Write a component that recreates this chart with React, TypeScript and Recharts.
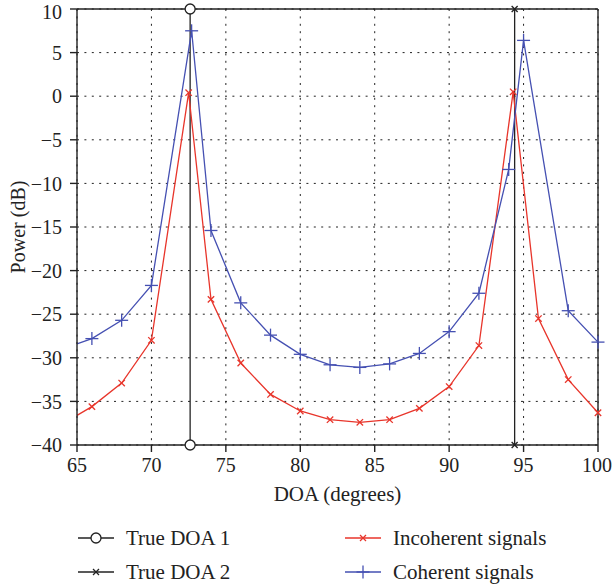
import React from 'react'
import { LineChart, Line, XAxis, YAxis, CartesianGrid, Legend, ReferenceLine } from 'recharts'

// DOA sweep (degrees) and spatial spectrum (dB)
const incoherentDoa = [65, 66, 68, 70, 72.5, 74, 76, 78, 80, 82, 84, 86, 88, 90, 92, 94.3, 96, 98, 100]
const incoherentPower = [-36.6, -35.6, -32.9, -28.0, 0.4, -23.3, -30.6, -34.2, -36.1, -37.1, -37.4, -37.1, -35.8, -33.3, -28.6, 0.5, -25.5, -32.5, -36.3]

const coherentDoa = [65, 66, 68, 70, 72.7, 74, 76, 78, 80, 82, 84, 86, 88, 90, 92, 94, 95, 98, 100]
const coherentPower = [-28.4, -27.8, -25.7, -21.7, 7.5, -15.4, -23.7, -27.4, -29.6, -30.8, -31.1, -30.7, -29.5, -27.0, -22.6, -8.4, 6.4, -24.6, -28.2]

const trueDoa1 = 72.6
const trueDoa2 = 94.4
const powerRange = [-40, 10]

const xTicks = [65, 70, 75, 80, 85, 90, 95, 100]
const yTicks = [-40, -35, -30, -25, -20, -15, -10, -5, 0, 5, 10]

const RED = '#e8352b'
const BLUE = '#4550b2'
const INK = '#222'
const FONT = '"Liberation Serif", "Times New Roman", serif'

const toRows = (xs: number[], ys: number[]) => xs.map((x, i) => ({ x, y: ys[i] }))
const incoherentRows = toRows(incoherentDoa, incoherentPower)
const coherentRows = toRows(coherentDoa, coherentPower)
const doa1Rows = powerRange.map((y) => ({ x: trueDoa1, y }))
const doa2Rows = powerRange.map((y) => ({ x: trueDoa2, y }))

const fmt = (v: number) => String(v).replace('-', '\u2212')

// marker shapes
const Cross = ({ cx, cy, s, color }: { cx: number; cy: number; s: number; color: string }) => (
  <g>
    <line x1={cx - s} y1={cy - s} x2={cx + s} y2={cy + s} stroke={color} strokeWidth={1.3} />
    <line x1={cx - s} y1={cy + s} x2={cx + s} y2={cy - s} stroke={color} strokeWidth={1.3} />
  </g>
)
const Plus = ({ cx, cy, s, color }: { cx: number; cy: number; s: number; color: string }) => (
  <g>
    <line x1={cx - s} y1={cy} x2={cx + s} y2={cy} stroke={color} strokeWidth={1.3} />
    <line x1={cx} y1={cy - s} x2={cx} y2={cy + s} stroke={color} strokeWidth={1.3} />
  </g>
)

// first sample sits on the axis edge and has no marker
const crossDot = (props: any) => {
  const { cx, cy, index } = props
  if (index === 0) return <g key={`ix-${index}`} />
  return (
    <g key={`ix-${index}`}>
      <Cross cx={cx} cy={cy} s={3.2} color={RED} />
    </g>
  )
}
const plusDot = (props: any) => {
  const { cx, cy, index } = props
  if (index === 0) return <g key={`cp-${index}`} />
  return (
    <g key={`cp-${index}`}>
      <Plus cx={cx} cy={cy} s={6.5} color={BLUE} />
    </g>
  )
}
const circleDot = (props: any) => (
  <circle key={`d1-${props.index}`} cx={props.cx} cy={props.cy} r={5} fill="#fff" stroke={INK} strokeWidth={1.3} />
)
const smallCrossDot = (props: any) => (
  <g key={`d2-${props.index}`}>
    <Cross cx={props.cx} cy={props.cy} s={3} color={INK} />
  </g>
)

const legendItems = [
  { name: 'True DOA 1', color: INK, mark: 'o', left: 78, top: 25 },
  { name: 'True DOA 2', color: INK, mark: 'x', left: 78, top: 59 },
  { name: 'Incoherent signals', color: RED, mark: 'x', left: 345, top: 25 },
  { name: 'Coherent signals', color: BLUE, mark: '+', left: 345, top: 59 },
]

const renderLegend = () => (
  <div style={{ position: 'relative', width: 612, height: 75, fontFamily: FONT, fontSize: 21, color: INK }}>
    {legendItems.map((it) => (
      <div key={it.name} style={{ position: 'absolute', left: it.left, top: it.top - 12, height: 24, display: 'flex', alignItems: 'center', whiteSpace: 'nowrap' }}>
        <svg width={36} height={24} style={{ marginRight: 12 }}>
          <line x1={0} y1={12} x2={36} y2={12} stroke={it.color} strokeWidth={1.3} />
          {it.mark === 'o' && <circle cx={18} cy={12} r={5} fill="#fff" stroke={it.color} strokeWidth={1.3} />}
          {it.mark === 'x' && <Cross cx={18} cy={12} s={3} color={it.color} />}
          {it.mark === '+' && <Plus cx={18} cy={12} s={6.5} color={it.color} />}
        </svg>
        <span>{it.name}</span>
      </div>
    ))}
  </div>
)

export default function App() {
  return (
    <div style={{ position: 'absolute', left: 0, top: 0, width: 612, height: 588, background: '#fff' }}>
      <LineChart width={612} height={588} margin={{ top: 9, right: 14, left: 0, bottom: 0 }}>
        <CartesianGrid stroke={INK} strokeDasharray="2 5.4" strokeWidth={1} />
        <XAxis
          type="number"
          dataKey="x"
          domain={[65, 100]}
          ticks={xTicks}
          height={68}
          tickSize={7}
          tickMargin={6}
          stroke={INK}
          strokeWidth={1.4}
          tick={{ fontSize: 20, fontFamily: FONT, fill: INK }}
          tickFormatter={fmt}
          label={{ value: 'DOA (degrees)', position: 'insideBottom', offset: 12, style: { fontSize: 21, fontFamily: FONT, fill: INK } }}
        />
        <YAxis
          type="number"
          domain={powerRange}
          ticks={yTicks}
          width={77}
          tickSize={7}
          tickMargin={8}
          stroke={INK}
          strokeWidth={1.4}
          tick={{ fontSize: 20, fontFamily: FONT, fill: INK }}
          tickFormatter={fmt}
          label={{ value: 'Power (dB)', angle: -90, position: 'insideLeft', offset: 18, style: { textAnchor: 'middle', fontSize: 20, fontFamily: FONT, fill: INK } }}
        />
        <ReferenceLine y={10} stroke={INK} strokeWidth={1.4} />
        <ReferenceLine x={100} stroke={INK} strokeWidth={1.4} />
        <Legend verticalAlign="bottom" content={renderLegend} />
        <Line data={doa1Rows} dataKey="y" name="True DOA 1" stroke={INK} strokeWidth={1.3} dot={circleDot} isAnimationActive={false} />
        <Line data={doa2Rows} dataKey="y" name="True DOA 2" stroke={INK} strokeWidth={1.3} dot={smallCrossDot} isAnimationActive={false} />
        <Line data={incoherentRows} dataKey="y" name="Incoherent signals" stroke={RED} strokeWidth={1.3} dot={crossDot} isAnimationActive={false} />
        <Line data={coherentRows} dataKey="y" name="Coherent signals" stroke={BLUE} strokeWidth={1.3} dot={plusDot} isAnimationActive={false} />
      </LineChart>
    </div>
  )
}
